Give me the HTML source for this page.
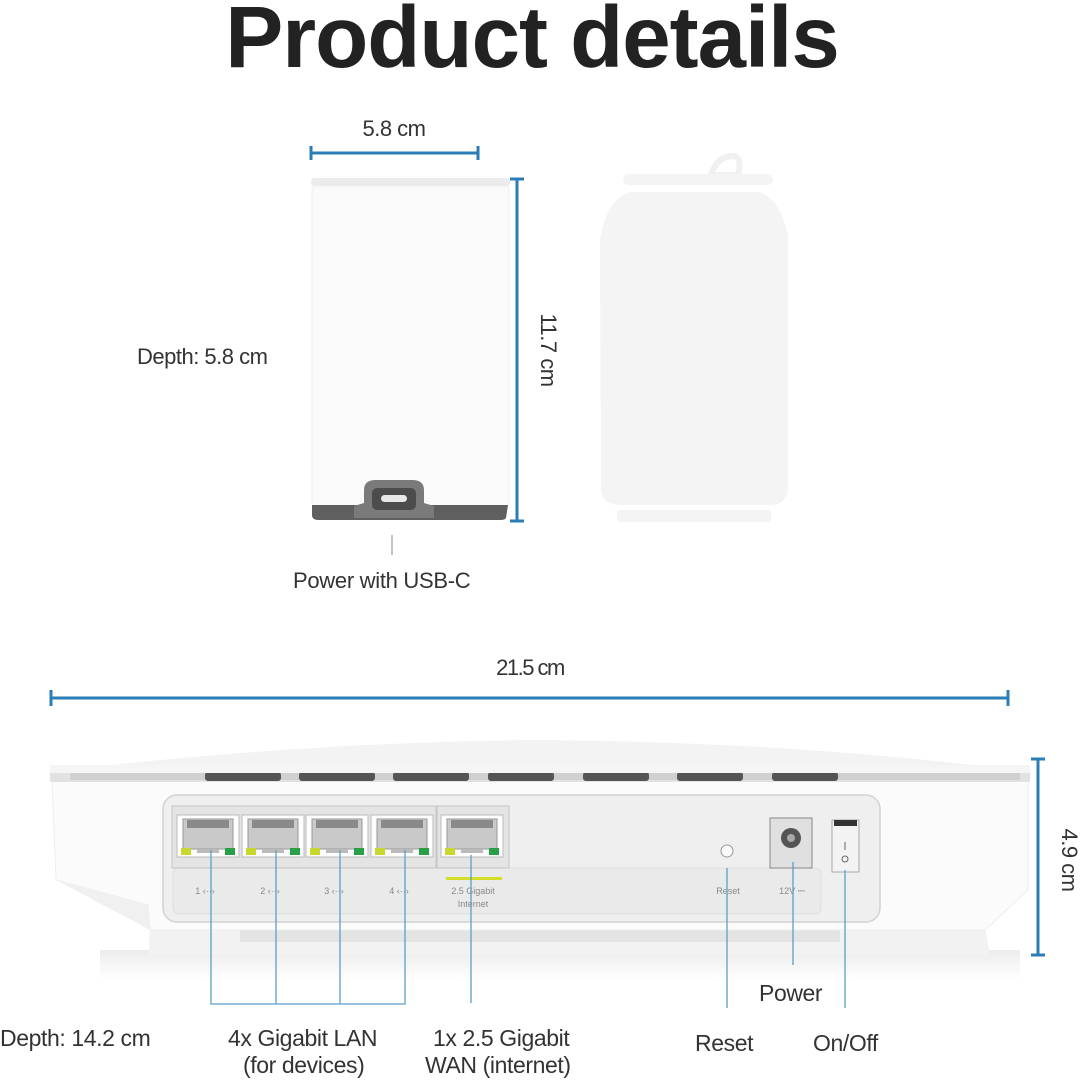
<!DOCTYPE html>
<html><head><meta charset="utf-8"><style>
html,body{margin:0;padding:0;background:#fff;}
svg{display:block;}
text{font-family:"Liberation Sans",sans-serif;}
</style></head><body>
<svg width="1080" height="1080" viewBox="0 0 1080 1080" xmlns="http://www.w3.org/2000/svg">
<defs>
<linearGradient id="sh" x1="0" y1="0" x2="0" y2="1"><stop offset="0" stop-color="#ececec"/><stop offset="1" stop-color="#fff"/></linearGradient>
<g id="port">
<rect x="0" y="0" width="62" height="42" fill="#fdfdfd" stroke="#bbb"/>
<rect x="6" y="4" width="50" height="30" fill="#c9c9c9" stroke="#999"/>
<rect x="10" y="5" width="42" height="8" fill="#8a8a8a"/>
<rect x="4" y="33" width="10" height="7" fill="#c9d82e"/>
<rect x="48" y="33" width="10" height="7" fill="#27a048"/>
<rect x="20" y="34" width="22" height="4" fill="#bbb"/>
</g>
</defs>
<text x="532" y="67" text-anchor="middle" font-size="87" font-weight="bold" fill="#222" letter-spacing="-1">Product details</text>

<!-- top dims -->
<text x="394" y="136" text-anchor="middle" font-size="22" fill="#333" letter-spacing="-0.5">5.8 cm</text>
<g stroke="#2a7db5" stroke-width="3">
<line x1="311" y1="153" x2="478" y2="153"/><line x1="311" y1="146" x2="311" y2="160"/><line x1="478" y1="146" x2="478" y2="160"/>
<line x1="517" y1="179" x2="517" y2="521"/><line x1="510" y1="179" x2="524" y2="179"/><line x1="510" y1="521" x2="524" y2="521"/>
</g>
<text transform="translate(541,350) rotate(90)" text-anchor="middle" font-size="22" fill="#333" letter-spacing="-0.5">11.7 cm</text>
<text x="137" y="364" font-size="22" fill="#333" letter-spacing="-0.5">Depth: 5.8 cm</text>

<!-- small device -->
<rect x="311" y="178" width="199" height="8" rx="3" fill="#ececec"/>
<rect x="312" y="186" width="197" height="320" rx="3" fill="#fafafa" stroke="#eeeeee"/>
<path d="M312 505 L508 505 L506 518 Q505 520 500 520 L318 520 Q313 520 312 516 Z" fill="#5f5f5f"/>
<path d="M364 503 L364 490 Q364 480 376 480 L412 480 Q424 480 424 490 L424 503 L434 506 L434 518 L354 518 L354 506 Z" fill="#7a7a7a"/>
<rect x="372" y="488" width="44" height="22" rx="5" fill="#4c4c4c"/>
<rect x="381" y="495" width="26" height="7" rx="3.5" fill="#e8e8e8"/>
<line x1="392" y1="535" x2="392" y2="555" stroke="#888" stroke-width="1"/>
<text x="293" y="588" font-size="22" fill="#333" letter-spacing="-0.3">Power with USB-C</text>

<!-- can -->
<g fill="#f4f4f4">
<path d="M711 175 Q717 155 735 156 Q742 160 738 175 Z" fill="none" stroke="#f0f0f0" stroke-width="6"/>
<rect x="623" y="174" width="150" height="11" rx="5"/>
<path d="M630 192 L760 192 Q780 200 788 235 L788 490 Q786 505 770 505 L620 505 Q602 505 601 490 L600 240 Q606 200 630 192 Z"/>
<rect x="617" y="510" width="154" height="12" rx="3"/>
</g>

<!-- 21.5 -->
<text x="530" y="675" text-anchor="middle" font-size="22" fill="#333" letter-spacing="-1.5">21.5 cm</text>
<g stroke="#2a7db5" stroke-width="3">
<line x1="51" y1="698" x2="1008" y2="698"/><line x1="51" y1="690" x2="51" y2="706"/><line x1="1008" y1="690" x2="1008" y2="706"/>
<line x1="1038" y1="759" x2="1038" y2="955"/><line x1="1031" y1="759" x2="1045" y2="759"/><line x1="1031" y1="955" x2="1045" y2="955"/>
</g>
<text transform="translate(1062,860) rotate(90)" text-anchor="middle" font-size="22" fill="#333" letter-spacing="-0.5">4.9 cm</text>

<!-- router -->
<rect x="100" y="950" width="920" height="30" fill="url(#sh)"/>
<path d="M150 928 L985 928 L990 955 L150 955 Q148 945 150 928 Z" fill="#f2f2f2"/>
<rect x="240" y="930" width="600" height="12" fill="#e4e4e4"/>
<path d="M52 778 L1028 778 L1028 890 L985 930 L150 930 L148 905 L56 880 Z" fill="#fbfbfb" stroke="#eee"/>
<path d="M56 880 L148 905 L150 930 Z" fill="#f0f0f0"/>
<rect x="50" y="770" width="980" height="12" fill="#e2e2e2"/>
<rect x="70" y="772" width="950" height="8" fill="#d0d0d0"/>
<g fill="#555">
<rect x="205" y="772" width="76" height="9" rx="3"/><rect x="299" y="772" width="76" height="9" rx="3"/><rect x="393" y="772" width="76" height="9" rx="3"/><rect x="488" y="772" width="66" height="9" rx="3"/><rect x="583" y="772" width="66" height="9" rx="3"/><rect x="677" y="772" width="66" height="9" rx="3"/><rect x="772" y="772" width="66" height="9" rx="3"/>
</g>
<path d="M50 772 Q300 742 540 740 Q800 742 1030 772 Z" fill="#f3f3f3"/>
<rect x="50" y="765" width="980" height="8" fill="#f5f5f5"/>

<rect x="163" y="795" width="717" height="127" rx="14" fill="#efefef" stroke="#d2d2d2" stroke-width="1.5"/>
<rect x="173" y="868" width="648" height="46" rx="6" fill="#eaeaea" stroke="#ddd"/>
<rect x="172" y="806" width="264" height="62" fill="#e4e4e4" stroke="#c4c4c4"/>
<rect x="437" y="806" width="72" height="62" fill="#e4e4e4" stroke="#c4c4c4"/>
<use href="#port" x="177" y="815"/><use href="#port" x="242" y="815"/><use href="#port" x="306" y="815"/><use href="#port" x="371" y="815"/><use href="#port" x="441" y="815"/>
<g font-size="9" fill="#888" text-anchor="middle">
<text x="205" y="894">1 ‹··›</text><text x="270" y="894">2 ‹··›</text><text x="334" y="894">3 ‹··›</text><text x="399" y="894">4 ‹··›</text>
<text x="473" y="894">2.5 Gigabit</text><text x="473" y="907">Internet</text>
<text x="728" y="894">Reset</text><text x="792" y="894">12V ⎓</text>
</g>
<rect x="446" y="877" width="56" height="3" fill="#d4df2a"/>
<circle cx="727" cy="851" r="6" fill="#fafafa" stroke="#999"/>
<rect x="770" y="818" width="42" height="50" fill="#e0e0e0" stroke="#888"/>
<circle cx="791" cy="838" r="10" fill="#555"/><circle cx="791" cy="838" r="4" fill="#aaa"/>
<rect x="832" y="820" width="27" height="52" fill="#f3f3f3" stroke="#aaa"/>
<rect x="834" y="820" width="23" height="6" fill="#333"/>
<line x1="845" y1="842" x2="845" y2="850" stroke="#666"/><circle cx="845" cy="859" r="3" fill="none" stroke="#666"/>

<!-- callouts -->
<g stroke="#5a9fc8" stroke-width="1.3" fill="none">
<path d="M211 850 V1004 H405 V850"/><line x1="276" y1="850" x2="276" y2="1004"/><line x1="340" y1="850" x2="340" y2="1004"/>
<line x1="471" y1="855" x2="471" y2="1003"/>
<line x1="727" y1="868" x2="727" y2="1008"/>
<line x1="793" y1="862" x2="793" y2="965"/>
<line x1="845" y1="870" x2="845" y2="1008"/>
</g>
<g font-size="23" fill="#333" letter-spacing="-0.4">
<text x="0" y="1046">Depth: 14.2 cm</text>
<text x="228" y="1046">4x Gigabit LAN</text>
<text x="243" y="1073">(for devices)</text>
<text x="433" y="1046">1x 2.5 Gigabit</text>
<text x="425" y="1073">WAN (internet)</text>
<text x="695" y="1051">Reset</text>
<text x="759" y="1001">Power</text>
<text x="813" y="1051">On/Off</text>
</g>
</svg>
</body></html>
